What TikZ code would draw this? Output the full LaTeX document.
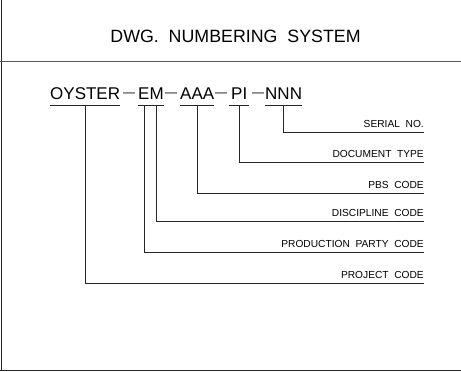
\documentclass[tikz,border=0pt]{standalone}
\usepackage{fontspec}
\setmainfont{Liberation Sans}
\begin{document}
\begin{tikzpicture}[x=1pt,y=-1pt,
  title/.style={inner sep=0pt, anchor=base, font=\fontsize{17.8}{20}\selectfont},
  code/.style={inner sep=0pt, anchor=base west, font=\fontsize{17}{20}\selectfont},
  codedash/.style={inner sep=0pt, anchor=base, font=\fontsize{12}{14}\selectfont},
  lbl/.style={inner sep=0pt, anchor=base east, font=\fontsize{10.2}{12}\selectfont},
  frame/.style={line width=0.9pt, black!85},
  lead/.style={line width=0.9pt, black!85}]
\useasboundingbox (0,0) rectangle (461,372);
% frame
\draw[frame] (1,0) -- (1,370);
\draw[frame, black!65] (0,61) -- (461,61);
\draw[frame] (0,370) -- (461,370);
% title
\node[title] (title) at (235.5,42) {DWG.\ \ NUMBERING\ \ SYSTEM};
% number parts
\node[code] (oyster) at (50,99) {OYSTER};
\node[codedash] (d1) at (129,96.5) {\textemdash};
\node[code] (em) at (138,99) {EM};
\node[codedash] (d2) at (171,96.5) {\textemdash};
\node[code] (aaa) at (180,99) {AAA};
\node[codedash] (d3) at (221,96.5) {\textemdash};
\node[code] (pi) at (231,99) {PI};
\node[codedash] (d4) at (258,96.5) {\textemdash};
\node[code] (nnn) at (265,99) {NNN};
% underlines
\draw[lead] ([yshift=-6pt]oyster.base west) -- ([yshift=-6pt]oyster.base east);
\draw[lead] ([yshift=-6pt]em.base west) -- ([yshift=-6pt]em.base east);
\draw[lead] ([yshift=-6pt]aaa.base west) -- ([yshift=-6pt]aaa.base east);
\draw[lead] ([xshift=-2pt,yshift=-6pt]pi.base west) -- ([xshift=2pt,yshift=-6pt]pi.base east);
\draw[lead] ([yshift=-6pt]nnn.base west) -- ([yshift=-6pt]nnn.base east);
% labels
\node[lbl] (serial) at (424,127) {SERIAL\ \ NO.};
\node[lbl] (doctype) at (424,157) {DOCUMENT\ \ TYPE};
\node[lbl] (pbs) at (424,188) {PBS\ \ CODE};
\node[lbl] (disc) at (424,216) {DISCIPLINE\ \ CODE};
\node[lbl] (party) at (424,247) {PRODUCTION\ \ PARTY\ \ CODE};
\node[lbl] (project) at (424,278) {PROJECT\ \ CODE};
% leaders
\draw[lead] ([yshift=-6pt]nnn.base) |- ([yshift=-5pt]serial.base east);
\draw[lead] ([yshift=-6pt]pi.base) |- ([yshift=-5pt]doctype.base east);
\draw[lead] ([yshift=-6pt]aaa.base) |- ([yshift=-5pt]pbs.base east);
\draw[lead] ([xshift=5.6pt,yshift=-6pt]em.base) |- ([yshift=-5pt]disc.base east);
\draw[lead] ([xshift=-7pt,yshift=-6pt]em.base) |- ([yshift=-5pt]party.base east);
\draw[lead] ([yshift=-6pt]oyster.base) |- ([yshift=-5pt]project.base east);
\end{tikzpicture}
\end{document}
